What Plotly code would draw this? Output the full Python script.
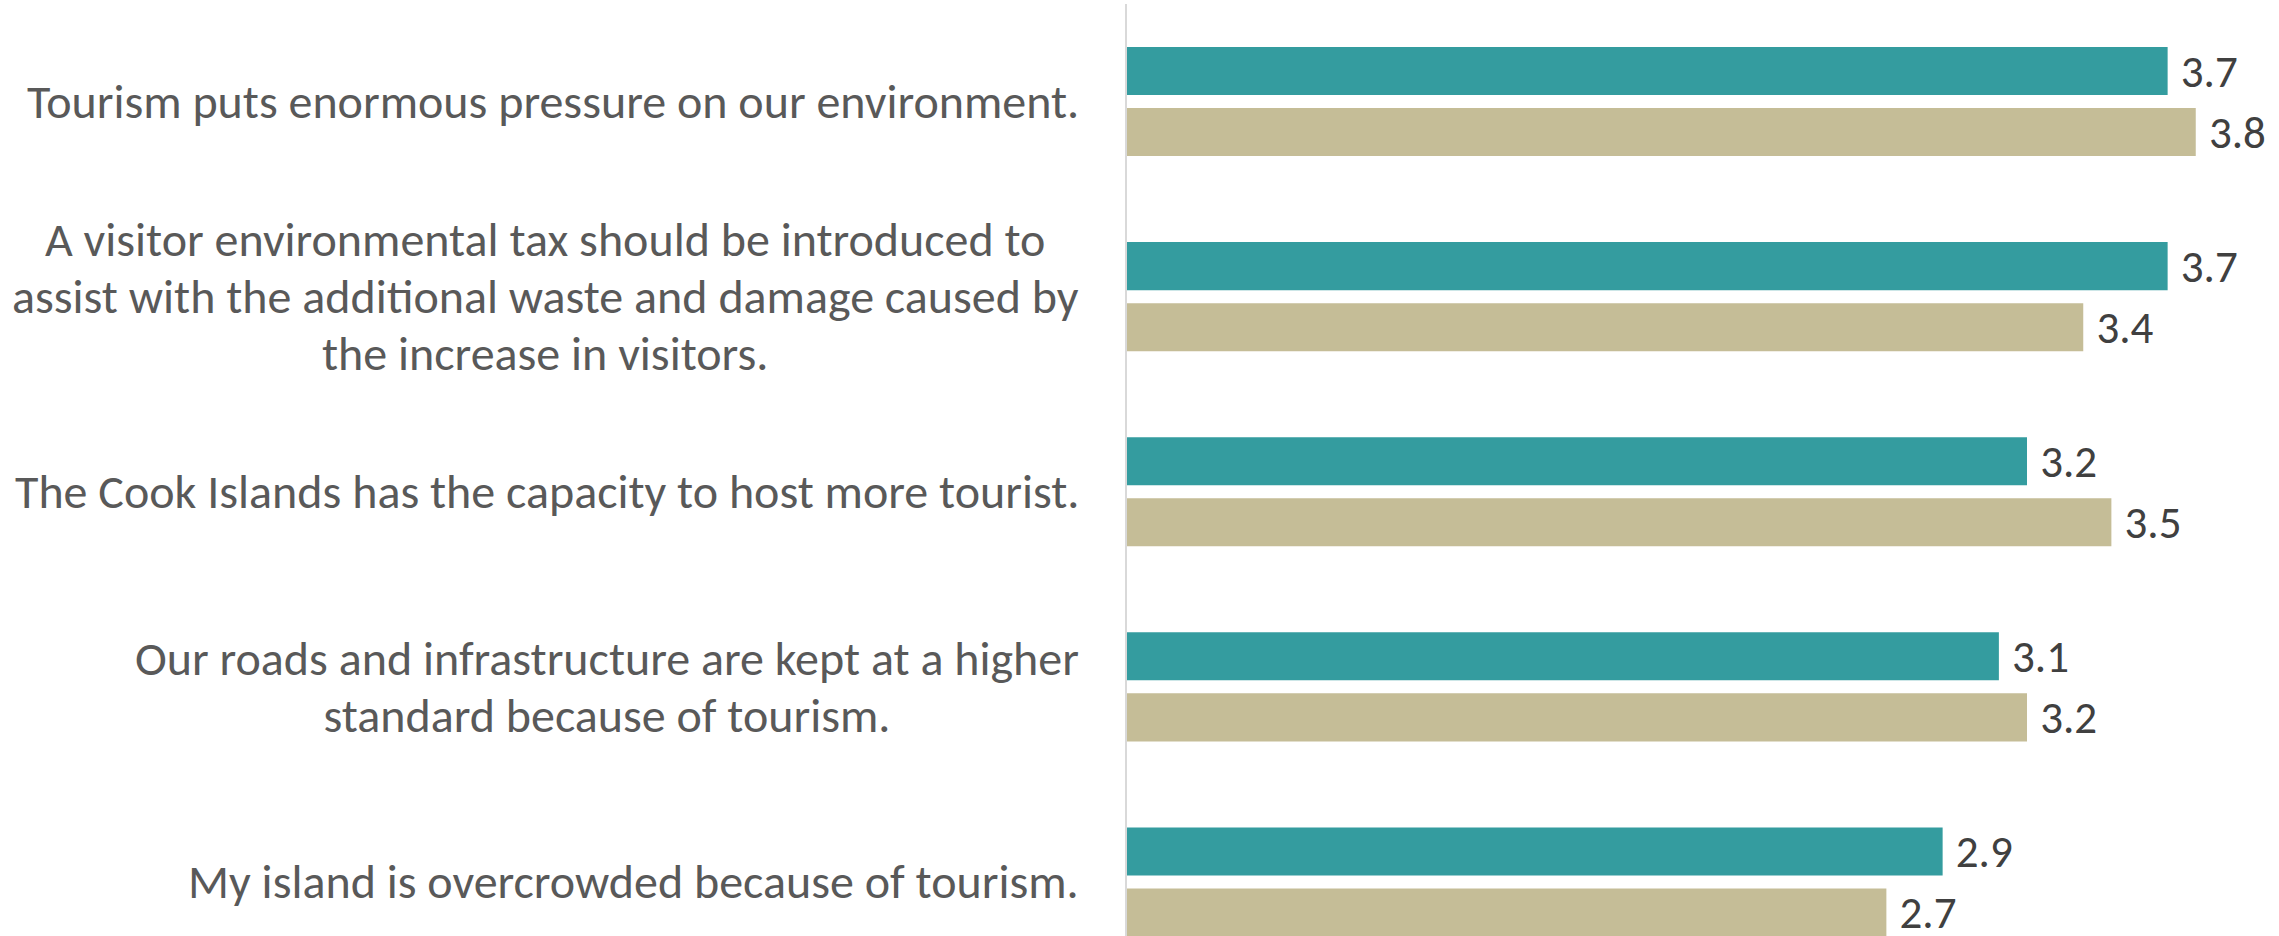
import plotly.graph_objects as go

# Survey statements (top to bottom) and mean agreement scores for two groups
statements = [
    "Tourism puts enormous pressure on our environment.",
    "A visitor environmental tax should be introduced to<br>assist with the additional waste and damage caused by<br>the increase in visitors.",
    "The Cook Islands has the capacity to host more tourist.",
    "Our roads and infrastructure are kept at a higher<br>standard because of tourism.",
    "My island is overcrowded because of tourism.",
]
series_a = [3.7, 3.7, 3.2, 3.1, 2.9]
series_b = [3.8, 3.4, 3.5, 3.2, 2.7]

TEAL = "#349C9F"
TAN = "#C5BD97"
LABEL_FONT = "Carlito, Calibri, Lato, sans-serif"
NBSP = "\u00a0"

fig = go.Figure()
for vals, colour in ((series_a, TEAL), (series_b, TAN)):
    fig.add_trace(go.Bar(
        x=vals,
        y=statements,
        orientation="h",
        marker=dict(color=colour, line=dict(width=0)),
        text=[f"{NBSP}{v:.1f}" for v in vals],
        textposition="outside",
        constraintext="none",
        cliponaxis=False,
        textfont=dict(family=LABEL_FONT, size=45, color="#404040"),
        hoverinfo="x+y",
    ))

# Statement labels, centred line by line, right next to the axis.
# The base size sets the line pitch; the span sets the glyph size.
for s in statements:
    lines = s.split("<br>")
    styled = "<br>".join(f'<span style="font-size:48px">{ln}</span>' for ln in lines)
    fig.add_annotation(
        x=0, xref="paper", y=s, yref="y",
        text=styled, showarrow=False,
        xanchor="right", yanchor="middle", xshift=-46,
        align="center",
        font=dict(family=LABEL_FONT, size=44, color="#595959"),
    )

fig.update_layout(
    width=2279, height=936,
    margin=dict(l=1127, r=27, t=4, b=0),
    paper_bgcolor="white", plot_bgcolor="white",
    barmode="group", bargap=0.374, bargroupgap=0.213,
    showlegend=False,
    xaxis=dict(range=[0, 4], visible=False, showgrid=False, zeroline=False),
    yaxis=dict(
        type="category",
        range=[4.277, -0.5],
        showticklabels=False, ticks="",
        showgrid=False, zeroline=False,
        showline=True, linecolor="#D9D9D9", linewidth=1.5,
    ),
)

fig.write_html("out.html")
